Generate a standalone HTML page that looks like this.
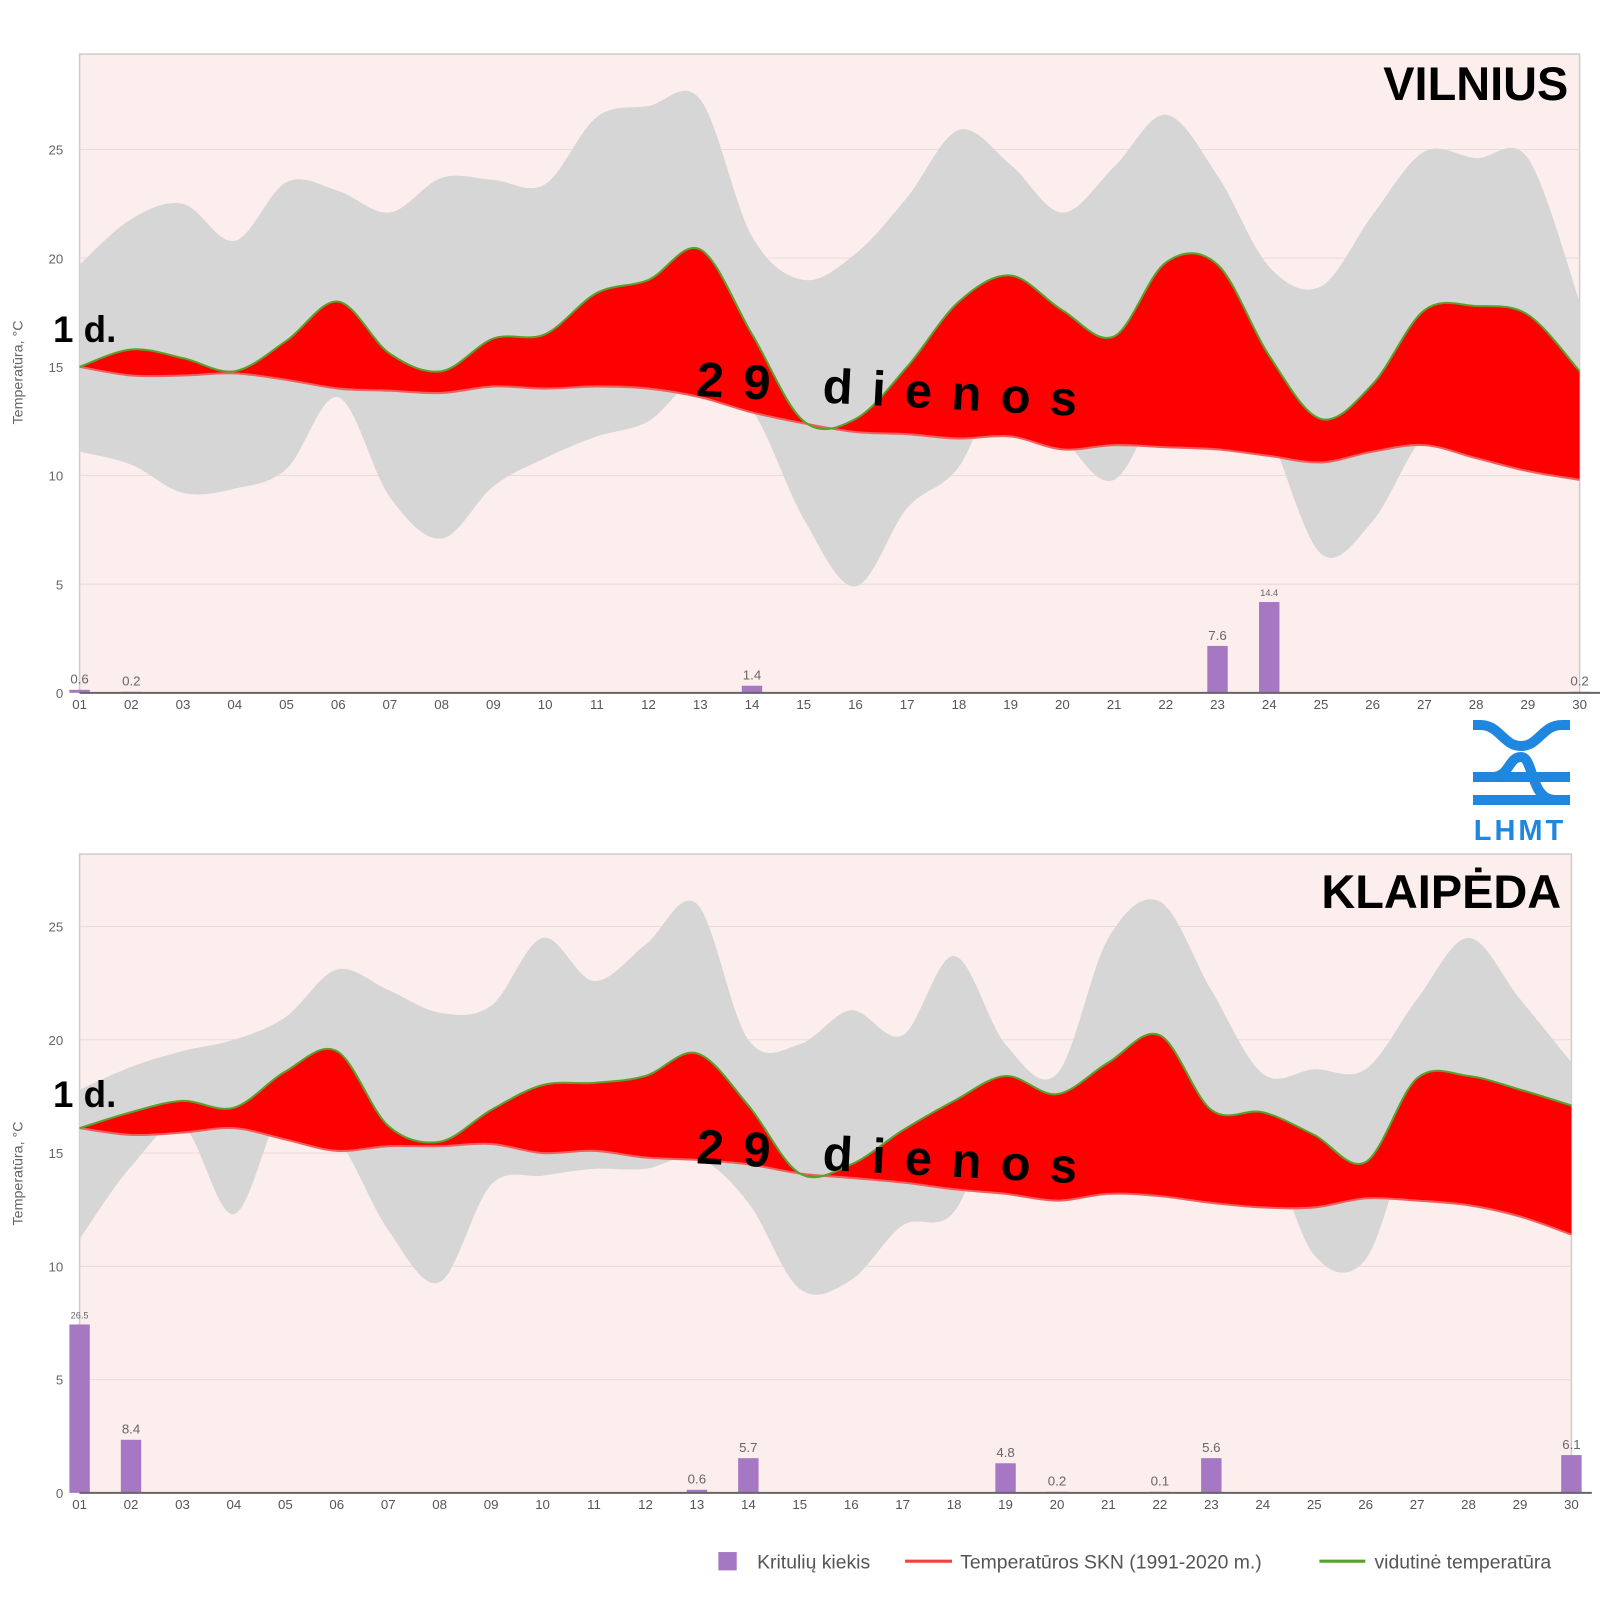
<!DOCTYPE html>
<html><head><meta charset="utf-8">
<style>
html,body{margin:0;padding:0;background:#fff;}
svg{display:block;font-family:"Liberation Sans",sans-serif;}
</style></head>
<body>
<svg id="s" width="1600" height="1600" viewBox="0 0 1600 1600" xmlns="http://www.w3.org/2000/svg"></svg>
<script>
const S=document.getElementById('s');
let out='<g transform="scale(1.0204)">';
function path(pts){
  let d='M'+pts[0][0].toFixed(1)+','+pts[0][1].toFixed(1);
  for(let i=0;i<pts.length-1;i++){
    const p0=pts[i-1]||pts[i],p1=pts[i],p2=pts[i+1],p3=pts[i+2]||p2;
    const c1=[p1[0]+(p2[0]-p0[0])/6,p1[1]+(p2[1]-p0[1])/6];
    const c2=[p2[0]-(p3[0]-p1[0])/6,p2[1]-(p3[1]-p1[1])/6];
    d+='C'+c1[0].toFixed(1)+','+c1[1].toFixed(1)+' '+c2[0].toFixed(1)+','+c2[1].toFixed(1)+' '+p2[0].toFixed(1)+','+p2[1].toFixed(1);
  }
  return d;
}
function chart(c){
  const {x0,x1,y0,yt,ppu}=c;
  const X=i=>x0+(x1-x0)/29*i, Y=v=>y0-v*ppu;
  out+=`<rect x="${x0}" y="${yt}" width="${x1-x0}" height="${y0-yt}" fill="#fdeeee" stroke="#ccc" stroke-width="1.5"/>`;
  for(let v=5;v<=25;v+=5){out+=`<line x1="${x0}" x2="${x1}" y1="${Y(v)}" y2="${Y(v)}" stroke="#eadada" stroke-width="1"/>`;}
  for(let v=0;v<=25;v+=5){out+=`<text x="${x0-16}" y="${Y(v)+5}" font-size="13" fill="#666" text-anchor="end">${v}</text>`;}
  const mx=c.max.map((v,i)=>[X(i),Y(v)]), mn=c.min.map((v,i)=>[X(i),Y(v)]);
  const mean=c.mean.map((v,i)=>[X(i),Y(v)]), skn=c.skn.map((v,i)=>[X(i),Y(v)]);
  const rev=a=>a.slice().reverse();
  out+=`<path d="${path(mx)}L${path(rev(mn)).slice(1)}Z" fill="#d6d6d6"/>`;
  out+=`<path d="${path(mean)}L${path(rev(skn)).slice(1)}Z" fill="#ff0000"/>`;
  out+=`<path d="${path(skn)}" fill="none" stroke="#f06060" stroke-width="2"/>`;
  out+=`<path d="${path(mean)}" fill="none" stroke="#5aa02c" stroke-width="2"/>`;
  c.bars.forEach(b=>{const x=X(b[0]-1);const top=b[2];
    out+=`<rect x="${x-10}" y="${top}" width="20" height="${y0-top}" fill="#a678c4"/>`;
    out+=`<text x="${x}" y="${top-6}" font-size="${b[3]||13}" fill="#666" text-anchor="middle">${b[1]}</text>`;});
  out+=`<line x1="${x0}" x2="${x1+20}" y1="${y0}" y2="${y0}" stroke="#666" stroke-width="2"/>`;
  for(let i=0;i<30;i++){out+=`<text x="${X(i)}" y="${y0+16}" font-size="13" fill="#555" text-anchor="middle">${String(i+1).padStart(2,'0')}</text>`;}
  out+=`<text transform="translate(22,${c.ly}) rotate(-90)" font-size="14" fill="#666" text-anchor="middle">Temperatūra, °C</text>`;
  out+=`<text x="${c.tx}" y="${c.ty}" font-size="46" font-weight="bold" text-anchor="end">${c.title}</text>`;
  out+=`<text x="52" y="${c.dy}" font-size="36" font-weight="bold">1 d.</text>`;
  out+=`<text transform="translate(682,${c.ny}) rotate(3)" font-size="48" font-weight="bold" letter-spacing="19">29 dienos</text>`;
}
chart({x0:78,x1:1548,y0:679,yt:53,ppu:21.3,title:'VILNIUS',tx:1537,ty:98,dy:335,ny:388,ly:365,
max:[19.7,21.8,22.5,20.8,23.5,23.1,22.1,23.7,23.6,23.4,26.5,27,27.3,21,19,20.2,22.8,25.9,24.3,22.1,24.2,26.6,23.8,19.6,18.7,22,24.9,24.6,24.6,18],
min:[11.1,10.5,9.2,9.4,10.3,13.6,9,7.1,9.5,10.8,11.8,12.5,14.5,13,8,4.9,8.5,10.4,14.9,11.8,9.8,14,16.9,12,6.4,7.9,11.8,12.2,11.6,12.6],
mean:[15,15.8,15.4,14.8,16.2,18,15.6,14.8,16.3,16.5,18.4,19,20.4,16.5,12.5,12.6,15,18,19.2,17.6,16.4,19.8,19.7,15.5,12.6,14.2,17.6,17.8,17.4,14.8],
skn:[15,14.6,14.6,14.7,14.4,14,13.9,13.8,14.1,14,14.1,14,13.6,12.9,12.4,12,11.9,11.7,11.8,11.2,11.4,11.3,11.2,10.9,10.6,11.1,11.4,10.8,10.2,9.8],
bars:[[1,'0.6',676],[2,'0.2',678],[14,'1.4',672],[23,'7.6',633],[24,'14.4',590,9],[30,'0.2',678]]});
chart({x0:78,x1:1540,y0:1463,yt:837,ppu:22.2,title:'KLAIPĖDA',tx:1530,ty:890,dy:1085,ny:1140,ly:1150,
max:[17.8,18.8,19.5,20,21,23.1,22.2,21.2,21.5,24.5,22.6,24.2,26,20,19.8,21.3,20.2,23.7,19.8,18.5,24.5,26.1,22.2,18.5,18.7,18.7,21.8,24.5,21.8,19],
min:[11.2,14.4,16.2,12.3,17.1,15.7,11.6,9.3,13.6,14,14.3,14.3,14.8,12.8,9,9.4,11.8,12.4,17.3,16.5,13.5,16,15.3,15.6,10.5,10.3,16,14.5,13.4,15.2],
mean:[16.1,16.8,17.3,17,18.6,19.5,16.2,15.5,16.9,18,18.1,18.4,19.4,17.1,14.1,14.5,16,17.3,18.4,17.6,19,20.2,16.9,16.8,15.8,14.6,18.3,18.4,17.8,17.1],
skn:[16.1,15.8,15.9,16.1,15.6,15.1,15.3,15.3,15.4,15,15.1,14.8,14.7,14.5,14.1,13.9,13.7,13.4,13.2,12.9,13.2,13.1,12.8,12.6,12.6,13,12.9,12.7,12.2,11.4],
bars:[[1,'26.5',1298,9],[2,'8.4',1411],[13,'0.6',1460],[14,'5.7',1429],[19,'4.8',1434],[20,'0.2',1462],[22,'0.1',1462],[23,'5.6',1429],[30,'6.1',1426]]});
out+=`<rect x="704" y="1521" width="18" height="18" fill="#a678c4"/>
<text x="742" y="1537" font-size="19" fill="#555">Kritulių kiekis</text>
<line x1="887" x2="933" y1="1530" y2="1530" stroke="#f04040" stroke-width="3"/>
<text x="941" y="1537" font-size="19" fill="#555">Temperatūros SKN (1991-2020 m.)</text>
<line x1="1293" x2="1338" y1="1530" y2="1530" stroke="#5aa02c" stroke-width="3"/>
<text x="1347" y="1537" font-size="19" fill="#555">vidutinė temperatūra</text></g>`;
out+=`<g fill="none" stroke="#1f87e0" stroke-width="10">
<path d="M1473,725 L1480,725 C1500,725 1503,746 1521,746 C1539,746 1542,725 1562,725 L1570,725"/>
<path d="M1473,777 L1570,777"/>
<path d="M1473,800 L1570,800"/>
<path d="M1492,777 C1510,777 1508,757 1521,757 C1534,757 1530,800 1555,800"/>
</g>
<text x="1520" y="840" font-size="29" font-weight="bold" fill="#1f87e0" text-anchor="middle" letter-spacing="3">LHMT</text>`;
S.innerHTML=out;
</script>
</body></html>
